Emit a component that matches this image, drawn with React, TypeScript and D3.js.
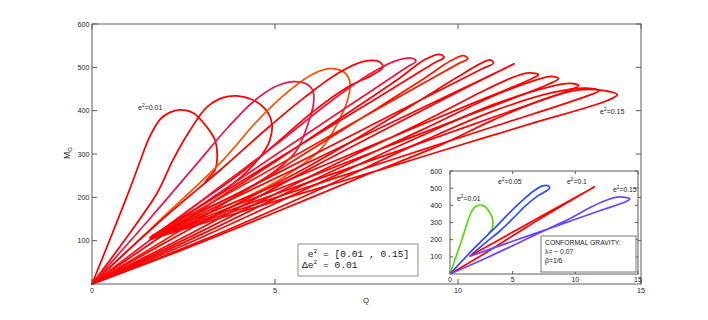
import React from "react";
import * as d3 from "d3";

type Pt = [number, number];

// e^2 values of the family, one curve each
const e2Values = [0.01, 0.02, 0.03, 0.04, 0.05, 0.06, 0.07, 0.08, 0.09, 0.1, 0.11, 0.12, 0.13, 0.14, 0.15];

// (Q, M_G) points
const curve01: Pt[] = [[0,0],[0.5,105],[1.0,212],[1.31,282],[1.55,335],[1.86,380],[2.13,396],[2.4,402],[2.76,395],[3.14,362],[3.36,332],[3.42,293],[3.36,263],[3.17,244],[3.09,235]];
const curve02: Pt[] = [[0,0],[0.9,102],[1.78,210],[2.21,286],[2.68,355],[3.14,408],[3.58,430],[3.96,434],[4.5,420],[4.81,395],[4.92,367],[4.86,332],[4.67,302],[4.3,265],[3.8,228],[3.3,200]];
const curve03: Pt[] = [[0,0],[1.5,143],[2.95,286],[3.7,360],[4.4,420],[5.0,455],[5.5,467],[5.85,462],[6.04,445],[6.05,415],[5.96,385],[5.6,309],[5.14,270],[4.3,222],[3.4,185],[2.6,158]];
const curve04: Pt[] = [[0,0],[1.8,143],[3.58,286],[4.5,375],[5.3,440],[6.0,483],[6.5,497],[6.9,488],[7.05,464],[7.0,430],[6.9,405],[6.3,316],[5.3,250],[4.2,200],[3.1,162],[2.2,135]];
const curve05: Pt[] = [[0,0],[1.8,140],[3.6,270],[4.8,360],[5.8,430],[6.7,485],[7.4,513],[7.85,513],[7.95,500],[7.65,482],[7.0,455],[6.0,395],[5.0,322],[4.0,252],[2.8,180],[1.8,118]];
const curve06: Pt[] = [[0,0],[2,128],[3.5,225],[5,320],[6.5,420],[7.6,485],[8.3,515],[8.75,521],[8.85,514],[8.6,500],[7,410],[5,297],[3,183],[1.7,110]];
const curve07: Pt[] = [[0,0],[2.5,145],[5,282],[7,395],[8.4,475],[9.1,518],[9.5,530],[9.62,523],[9.35,510],[7.5,414],[5.5,311],[3.5,207],[1.65,112]];
const curve08: Pt[] = [[0,0],[2.5,128],[5,258],[7.5,390],[9,470],[9.8,515],[10.15,527],[10.27,520],[10,508],[8,413],[6,318],[4,222],[1.6,108]];
const curve09: Pt[] = [[0,0],[3,142],[6,275],[8.5,400],[10,478],[10.6,508],[10.88,517],[10.97,510],[10.65,496],[8.5,404],[6,296],[4,210],[1.6,108]];
const curve10: Pt[] = [[0,0],[3,130],[6,268],[9,400],[10.5,465],[11.2,494],[11.53,508],[10.8,478],[10,446],[8,365],[6,284],[4,203],[1.6,106]];
const curve11: Pt[] = [[0,0],[3,122],[6,250],[9,372],[10.8,450],[11.6,480],[11.95,487],[12.2,483],[12.0,473],[10,403],[8,332],[6,262],[4,192],[1.6,107]];
const curve12: Pt[] = [[0,0],[3,115],[6,238],[9,355],[11,435],[12.1,470],[12.55,479],[12.75,474],[12.5,462],[10,380],[8,315],[6,249],[4,184],[1.6,106]];
const curve13: Pt[] = [[0,0],[3,108],[6,225],[9,342],[11,415],[12.5,455],[13.05,463],[13.3,458],[13,446],[11,386],[9,326],[7,267],[5,207],[3,147],[1.6,105]];
const curve14: Pt[] = [[0,0],[3,100],[6,210],[9,328],[11,400],[12.6,442],[13.5,452],[13.85,446],[13.5,433],[11,364],[9,309],[7,254],[5,199],[3,143],[1.6,104]];
const curve15: Pt[] = [[0,0],[2.5,80],[5,165],[7.5,252],[9.5,320],[11,380],[12.3,425],[13.3,448],[14,446],[14.35,437],[14.1,424],[12,370],[10,319],[8,267],[6,216],[4,165],[1.6,103]];

const curves = [curve01, curve02, curve03, curve04, curve05, curve06, curve07, curve08, curve09, curve10, curve11, curve12, curve13, curve14, curve15];
const curveColors = ["#ff0000", "#ff0000", "#e8174f", "#ff5200", "#ff0000", "#f2143c", "#ff0000", "#ff1800", "#ff0000", "#ff0000", "#ff0000", "#ff0000", "#ff0000", "#ff0000", "#ff0000"];

// inset: four of the curves again
const insetE2 = [0.01, 0.05, 0.1, 0.15];
const insetColors = ["#4ede00", "#2c4cff", "#ff0000", "#6a46ff"];
const insetLabels = ["0.01", "0.05", "0.1", "0.15"];

const xTicks = [0, 5, 10, 15];
const yTicks = [100, 200, 300, 400, 500, 600];

const FONT = "Liberation Sans, Arial, Helvetica, sans-serif";
const MONO = "Liberation Mono, Courier New, monospace";
const AXIS = "#5a5a5a";
const TXT = "#222";

const Sup = ({ base, exp, rest, size }: { base: string; exp: string; rest: string; size: number }) => (
  <>
    {base}
    <tspan dy={-size * 0.42} fontSize={size * 0.7}>{exp}</tspan>
    <tspan dy={size * 0.42}>{rest}</tspan>
  </>
);

const App = () => {
  // main axes
  const x = d3.scaleLinear().domain([0, 15]).range([92, 641]);
  const y = d3.scaleLinear().domain([0, 600]).range([284, 24]);
  // inset axes
  const ix = d3.scaleLinear().domain([0, 15]).range([450, 638]);
  const iy = d3.scaleLinear().domain([0, 600]).range([274, 171]);

  const line = d3.line<Pt>().x((d) => x(d[0])).y((d) => y(d[1])).curve(d3.curveCatmullRom.alpha(0.5));
  const iline = d3.line<Pt>().x((d) => ix(d[0])).y((d) => iy(d[1])).curve(d3.curveCatmullRom.alpha(0.5));

  const [x0, x1] = x.range();
  const [y0, y1] = y.range();
  const [ix0, ix1] = ix.range();
  const [iy0, iy1] = iy.range();

  return (
    <svg width={708} height={320} style={{ position: "absolute", left: 0, top: 0, background: "#fff" }} fontFamily={FONT}>
      <defs>
        <clipPath id="insetClip">
          <rect x={ix0} y={iy1} width={ix1 - ix0} height={iy0 - iy1} />
        </clipPath>
      </defs>

      {/* curves */}
      <g fill="none" strokeWidth={1.75} strokeLinejoin="round" strokeLinecap="round">
        {curves.map((c, i) => (
          <path key={e2Values[i]} d={line(c) ?? ""} stroke={curveColors[i]} />
        ))}
      </g>

      {/* frame + inward ticks */}
      <rect x={x0} y={y1} width={x1 - x0} height={y0 - y1} fill="none" stroke={AXIS} strokeWidth={1} />
      <g stroke={AXIS} strokeWidth={1}>
        {yTicks.map((t) => (
          <g key={"y" + t}>
            <line x1={x0} x2={x0 + 5} y1={y(t)} y2={y(t)} />
            <line x1={x1} x2={x1 - 5} y1={y(t)} y2={y(t)} />
          </g>
        ))}
        {xTicks.map((t) => (
          <g key={"x" + t}>
            <line x1={x(t)} x2={x(t)} y1={y0} y2={y0 - 5} />
            <line x1={x(t)} x2={x(t)} y1={y1} y2={y1 + 5} />
          </g>
        ))}
      </g>
      <g fontSize={7.2} fill={TXT}>
        {yTicks.map((t) => (
          <text key={"yl" + t} x={x0 - 2.5} y={y(t) + 2.6} textAnchor="end">{t}</text>
        ))}
        {xTicks.map((t) => (
          <text key={"xl" + t} x={x(t)} y={y0 + 9} textAnchor="middle">{t}</text>
        ))}
      </g>
      <text x={366} y={302.5} fontSize={7.8} fill={TXT} textAnchor="middle">Q</text>
      <text transform="translate(70,153) rotate(-90)" fontSize={8.5} fill={TXT} textAnchor="middle">
        M<tspan dy={2} fontSize={6}>G</tspan>
      </text>

      {/* curve labels */}
      <text x={138} y={110} fontSize={7} fill={TXT}><Sup base="e" exp="2" rest="=0.01" size={7} /></text>
      <text x={600} y={113.5} fontSize={7} fill={TXT}><Sup base="e" exp="2" rest="=0.15" size={7} /></text>

      {/* range box */}
      <rect x={298} y={244} width={120} height={32} fill="#fff" stroke="#8c8c8c" strokeWidth={1} />
      <text x={302} y={257} fontFamily={MONO} fontSize={9.6} fill={TXT} style={{ whiteSpace: "pre" }}>
        {" e"}<tspan dy={-3.6} fontSize={6.2}>2</tspan><tspan dy={3.6}>{" = [0.01 , 0.15]"}</tspan>
      </text>
      <text x={302} y={267.5} fontFamily={MONO} fontSize={9.6} fill={TXT} style={{ whiteSpace: "pre" }}>
        {"Δe"}<tspan dy={-3.6} fontSize={6.2}>2</tspan><tspan dy={3.6}>{" = 0.01"}</tspan>
      </text>

      {/* inset */}
      <rect x={ix0} y={iy1} width={ix1 - ix0} height={iy0 - iy1} fill="#fff" stroke={AXIS} strokeWidth={1} />
      <g clipPath="url(#insetClip)" fill="none" strokeWidth={1.7} strokeLinejoin="round" strokeLinecap="round">
        {insetE2.map((e, i) => (
          <path key={e} d={iline(curves[e2Values.indexOf(e)]) ?? ""} stroke={insetColors[i]} />
        ))}
      </g>
      <g stroke={AXIS} strokeWidth={1}>
        {yTicks.map((t) => (
          <g key={"iy" + t}>
            <line x1={ix0} x2={ix0 + 3} y1={iy(t)} y2={iy(t)} />
            <line x1={ix1} x2={ix1 - 3} y1={iy(t)} y2={iy(t)} />
          </g>
        ))}
        {xTicks.map((t) => (
          <g key={"ix" + t}>
            <line x1={ix(t)} x2={ix(t)} y1={iy0} y2={iy0 - 3} />
            <line x1={ix(t)} x2={ix(t)} y1={iy1} y2={iy1 + 3} />
          </g>
        ))}
      </g>
      <g fontSize={7} fill={TXT}>
        {yTicks.map((t) => (
          <text key={"iyl" + t} x={ix0 - 8} y={iy(t) + 2.5} textAnchor="end">{t}</text>
        ))}
        {xTicks.map((t) => (
          <text key={"ixl" + t} x={ix(t)} y={iy0 + 7.5} textAnchor="middle">{t}</text>
        ))}
      </g>
      <g fontSize={6.8} fill={TXT}>
        <text x={457} y={200.5}><Sup base="e" exp="2" rest={"=" + insetLabels[0]} size={6.8} /></text>
        <text x={498} y={183.5}><Sup base="e" exp="2" rest={"=" + insetLabels[1]} size={6.8} /></text>
        <text x={567} y={183.5}><Sup base="e" exp="2" rest={"=" + insetLabels[2]} size={6.8} /></text>
        <text x={613} y={191.5}><Sup base="e" exp="2" rest={"=" + insetLabels[3]} size={6.8} /></text>
      </g>
      <rect x={541} y={236} width={95} height={36} fill="#fff" stroke="#7a7a7a" strokeWidth={1} />
      <g fontSize={6.8} fill={TXT}>
        <text x={545} y={245}>CONFORMAL GRAVITY:</text>
        <text x={545} y={254} style={{ whiteSpace: "pre" }}>{"λ= − 0.07"}</text>
        <text x={545} y={263}>β=1/6</text>
      </g>
    </svg>
  );
};

export default App;
